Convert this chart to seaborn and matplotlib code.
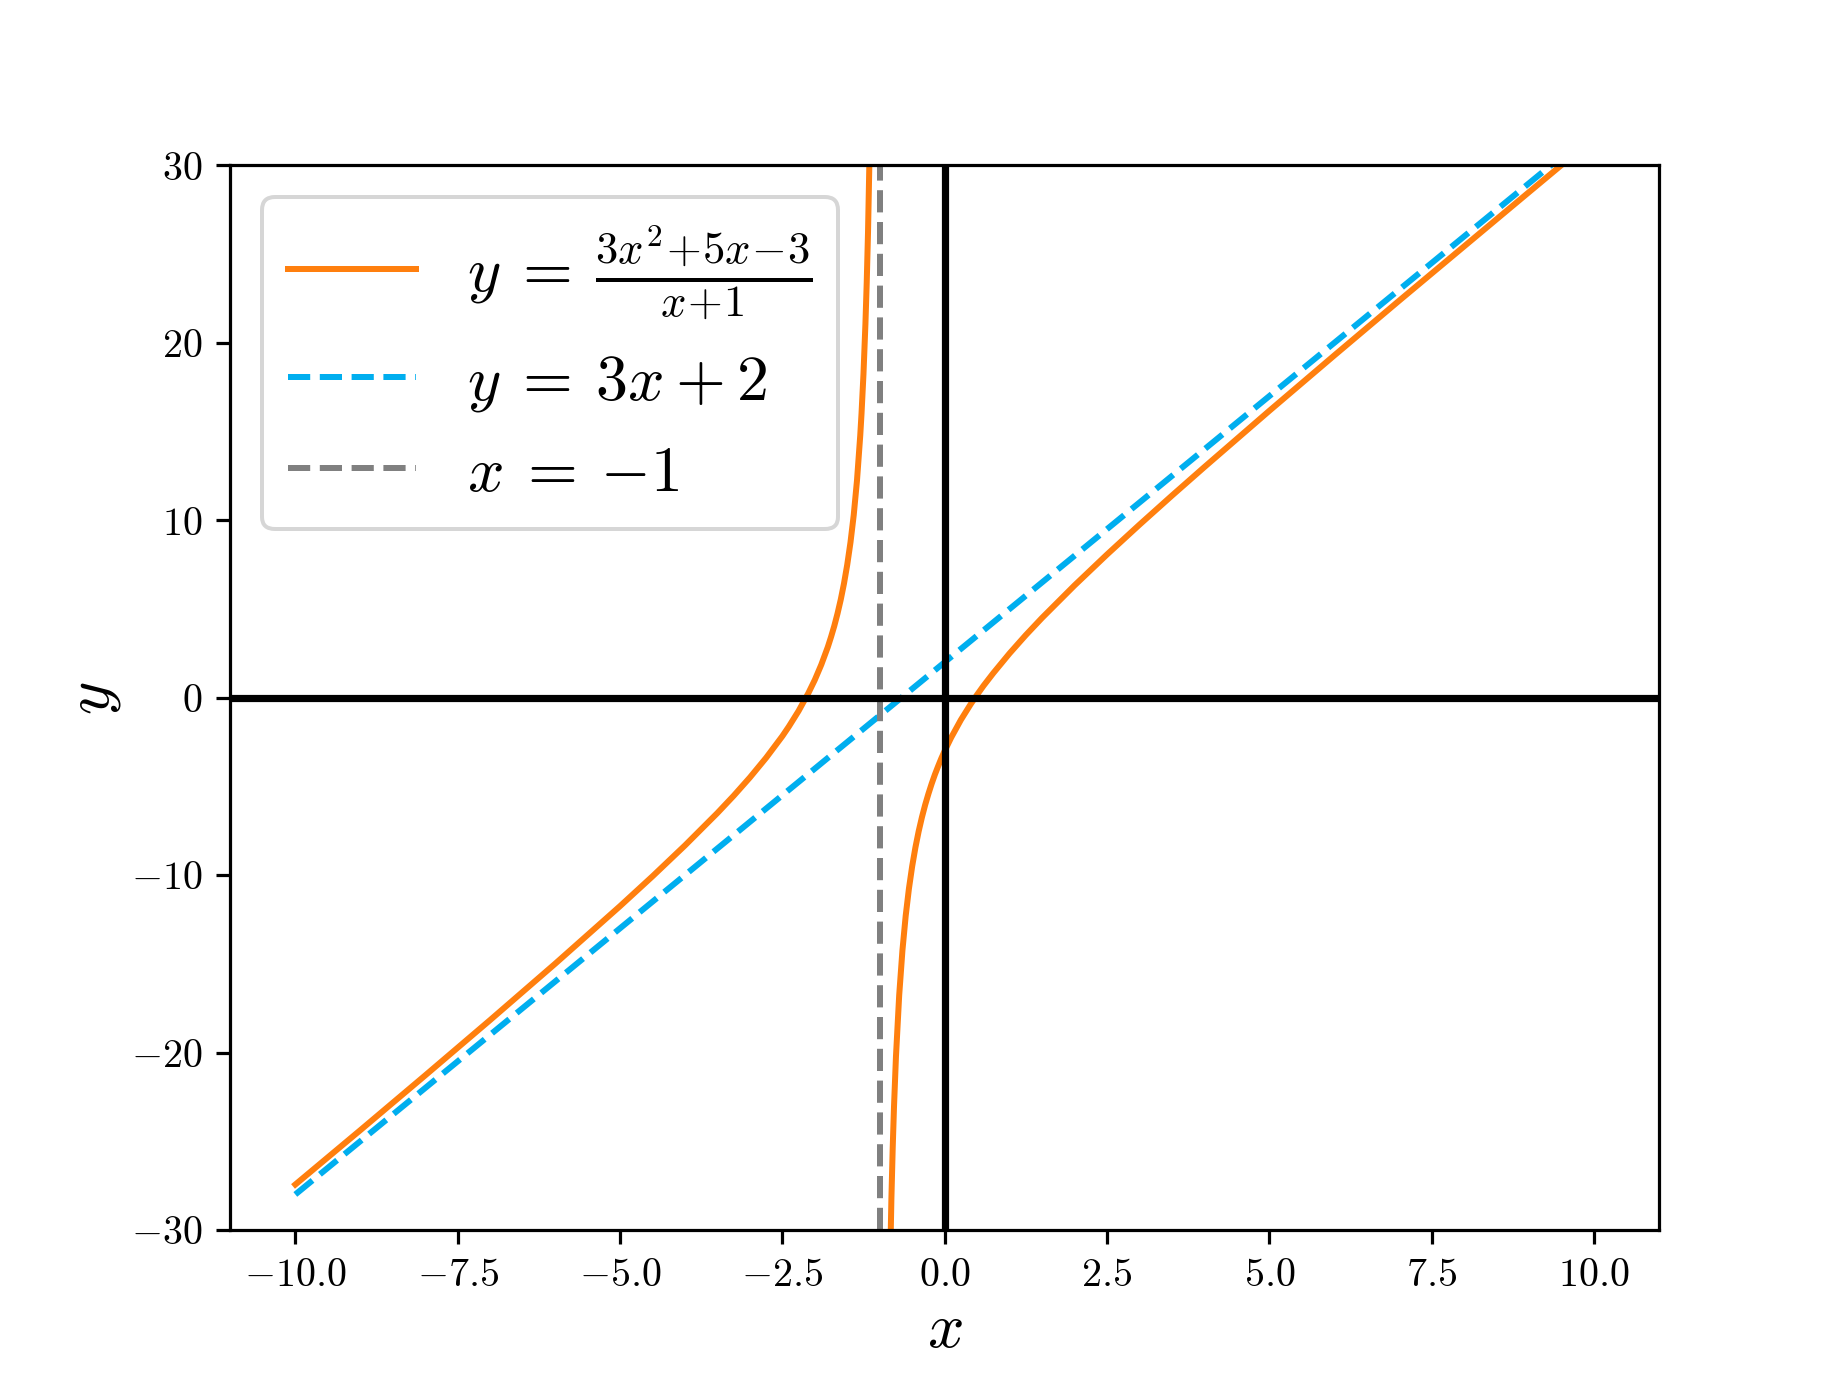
import matplotlib
matplotlib.use("Agg")
import matplotlib.pyplot as plt
import seaborn as sns
import pandas as pd

# Curve y = (3x^2+5x-3)/(x+1)
left_x = [-10, -9.5, -9, -8, -7, -6, -5, -4.5, -4, -3.5, -3.25, -3, -2.75, -2.5, -2.4,
          -2.25, -2.1, -2, -1.9, -1.8, -1.75, -1.7, -1.65, -1.6, -1.55, -1.5, -1.45,
          -1.4, -1.35, -1.3, -1.28, -1.25, -1.22, -1.2, -1.18, -1.15, -1.12, -1.1]
left_y = [-27.44, -25.91, -24.38, -21.29, -18.17, -15.0, -11.75, -10.07, -8.33, -6.5,
          -5.53, -4.5, -3.39, -2.17, -1.63, -0.75, 0.25, 1.0, 1.86, 2.85, 3.42, 4.04,
          4.74, 5.53, 6.44, 7.5, 8.76, 10.3, 12.24, 14.77, 16.02, 18.25, 21.07, 23.4,
          26.24, 31.88, 40.31, 48.7]
right_x = [-0.9, -0.85, -0.82, -0.8, -0.78, -0.75, -0.7, -0.65, -0.6, -0.55, -0.5, -0.45,
           -0.4, -0.35, -0.3, -0.25, -0.2, -0.15, -0.1, -0.05, 0, 0.1, 0.25, 0.4, 0.5,
           0.6, 0.75, 1, 1.25, 1.5, 2, 2.5, 3, 3.5, 4, 5, 6, 7, 8, 9, 10]
right_y = [-50.7, -33.88, -28.24, -25.4, -23.07, -20.25, -16.77, -14.24, -12.3, -10.76,
           -9.5, -8.44, -7.53, -6.74, -6.04, -5.42, -4.85, -4.33, -3.86, -3.41, -3.0,
           -2.25, -1.25, -0.37, 0.17, 0.68, 1.39, 2.5, 3.53, 4.5, 6.33, 8.07, 9.75,
           11.39, 13.0, 16.17, 19.29, 22.38, 25.44, 28.5, 31.55]
# Oblique asymptote y = 3x + 2
asym_x = [-10, 10]
asym_y = [-28, 32]
vert_x = -1
labels = [r"$y\:=\:\frac{3x^2\!+\!5x\!-\!3}{x\!+\!1}$", r"$y\:=\:3x+2$", r"$x\:=\:{-1}$"]

plt.rcParams.update({
    "font.family": "serif",
    "font.serif": ["cmr10", "DejaVu Serif"],
    "mathtext.fontset": "cm",
    "axes.formatter.use_mathtext": True,
    "axes.unicode_minus": True,
})

fig, ax = plt.subplots(figsize=(6.4, 4.8), dpi=288)
orange = "#ff7f0e"
blue = "#00aeef"

sns.lineplot(data=pd.DataFrame({"x": left_x, "y": left_y}), x="x", y="y", ax=ax,
             color=orange, lw=1.5, sort=False, label=labels[0])
sns.lineplot(data=pd.DataFrame({"x": right_x, "y": right_y}), x="x", y="y", ax=ax,
             color=orange, lw=1.5, sort=False)
sns.lineplot(data=pd.DataFrame({"x": asym_x, "y": asym_y}), x="x", y="y", ax=ax,
             color=blue, lw=1.5, ls="--", sort=False, label=labels[1])
ax.axvline(vert_x, color="gray", lw=1.5, ls="--", label=labels[2])
ax.axhline(0, color="black", lw=1.8)
ax.axvline(0, color="black", lw=1.8)

ax.set_xlim(-11, 11)
ax.set_ylim(-30, 30)
ax.set_xlabel(r"$x$", fontsize=16, labelpad=2)
ax.set_ylabel(r"$y$", fontsize=16, labelpad=2)
ax.legend(loc="upper left", fontsize=16)

fig.savefig("out.png", dpi=288)
